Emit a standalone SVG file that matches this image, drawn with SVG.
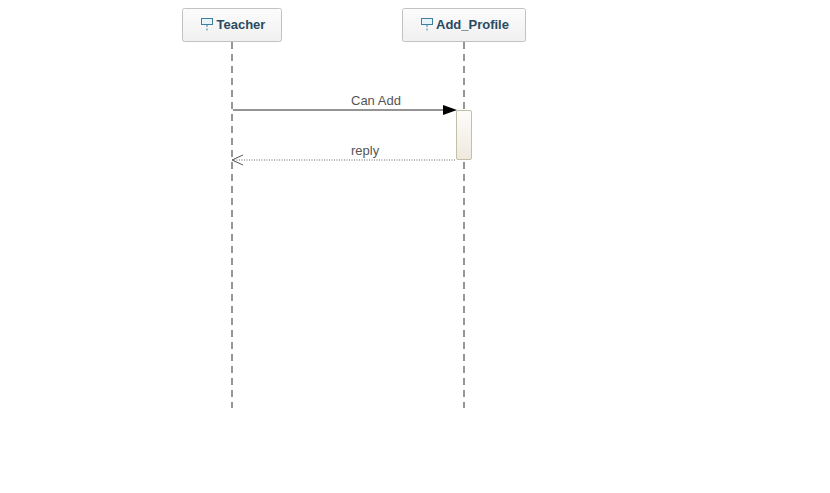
<svg xmlns="http://www.w3.org/2000/svg" width="830" height="493" viewBox="0 0 830 493">
<style>
.head{fill:url(#hg);stroke:#c2c2c2;stroke-width:1}
.name{font-family:"Liberation Sans",Arial,sans-serif;font-size:13px;font-weight:bold;fill:#2a4a60}
.lab{font-family:"Liberation Sans",Arial,sans-serif;font-size:13px;fill:#555}
.life{stroke:#969696;stroke-width:2;stroke-dasharray:7 5;fill:none}
.ico{fill:#e6f3f8;stroke:#3f7f9e;stroke-width:1}
.icol{stroke:#3f7f9e;stroke-width:1;stroke-dasharray:2 1.500;fill:none}
</style>
<defs>
<linearGradient id="hg" x1="0" y1="0" x2="0" y2="1"><stop offset="0" stop-color="#fcfcfc"/><stop offset="1" stop-color="#f0f0f0"/></linearGradient>
<linearGradient id="ag" x1="0" y1="0" x2="0" y2="1"><stop offset="0" stop-color="#fdfcfa"/><stop offset="1" stop-color="#efe9de"/></linearGradient>
</defs>
<rect width="830" height="493" fill="#fff"/>
<g id="connectors">
<path class="life" d="M232 42V408"/>
<path class="life" d="M464 42V408"/>
<path d="M233 110H445" stroke="#707070" stroke-width="1.500" fill="none"/>
<polygon points="443,105 457,110 443,115" fill="#000"/>
<path d="M234 160H456" stroke="#666" stroke-width="1" stroke-dasharray="1 1.500" fill="none"/>
<path d="M243 155L232 160L243 165" stroke="#555" stroke-width="1" fill="none"/>
<text class="lab" x="351" y="105">Can Add</text>
<text class="lab" x="351" y="155">reply</text>
</g>
<g id="teacher">
<rect class="head" x="182.500" y="8.500" width="99" height="33" rx="2"/>
<rect class="ico" x="201.500" y="18.500" width="11" height="6"/>
<path class="icol" d="M207 25V31"/>
<text class="name" x="216.500" y="29">Teacher</text>
</g>
<g id="add_profile">
<rect class="head" x="402.500" y="8.500" width="123" height="33" rx="2"/>
<rect class="ico" x="421.500" y="18.500" width="11" height="6"/>
<path class="icol" d="M427 25V31"/>
<text class="name" x="436" y="29">Add_Profile</text>
</g>
<g id="activation">
<rect x="456.500" y="110.500" width="15" height="49" rx="1.500" fill="url(#ag)" stroke="#c4bfa8"/>
</g>
</svg>
